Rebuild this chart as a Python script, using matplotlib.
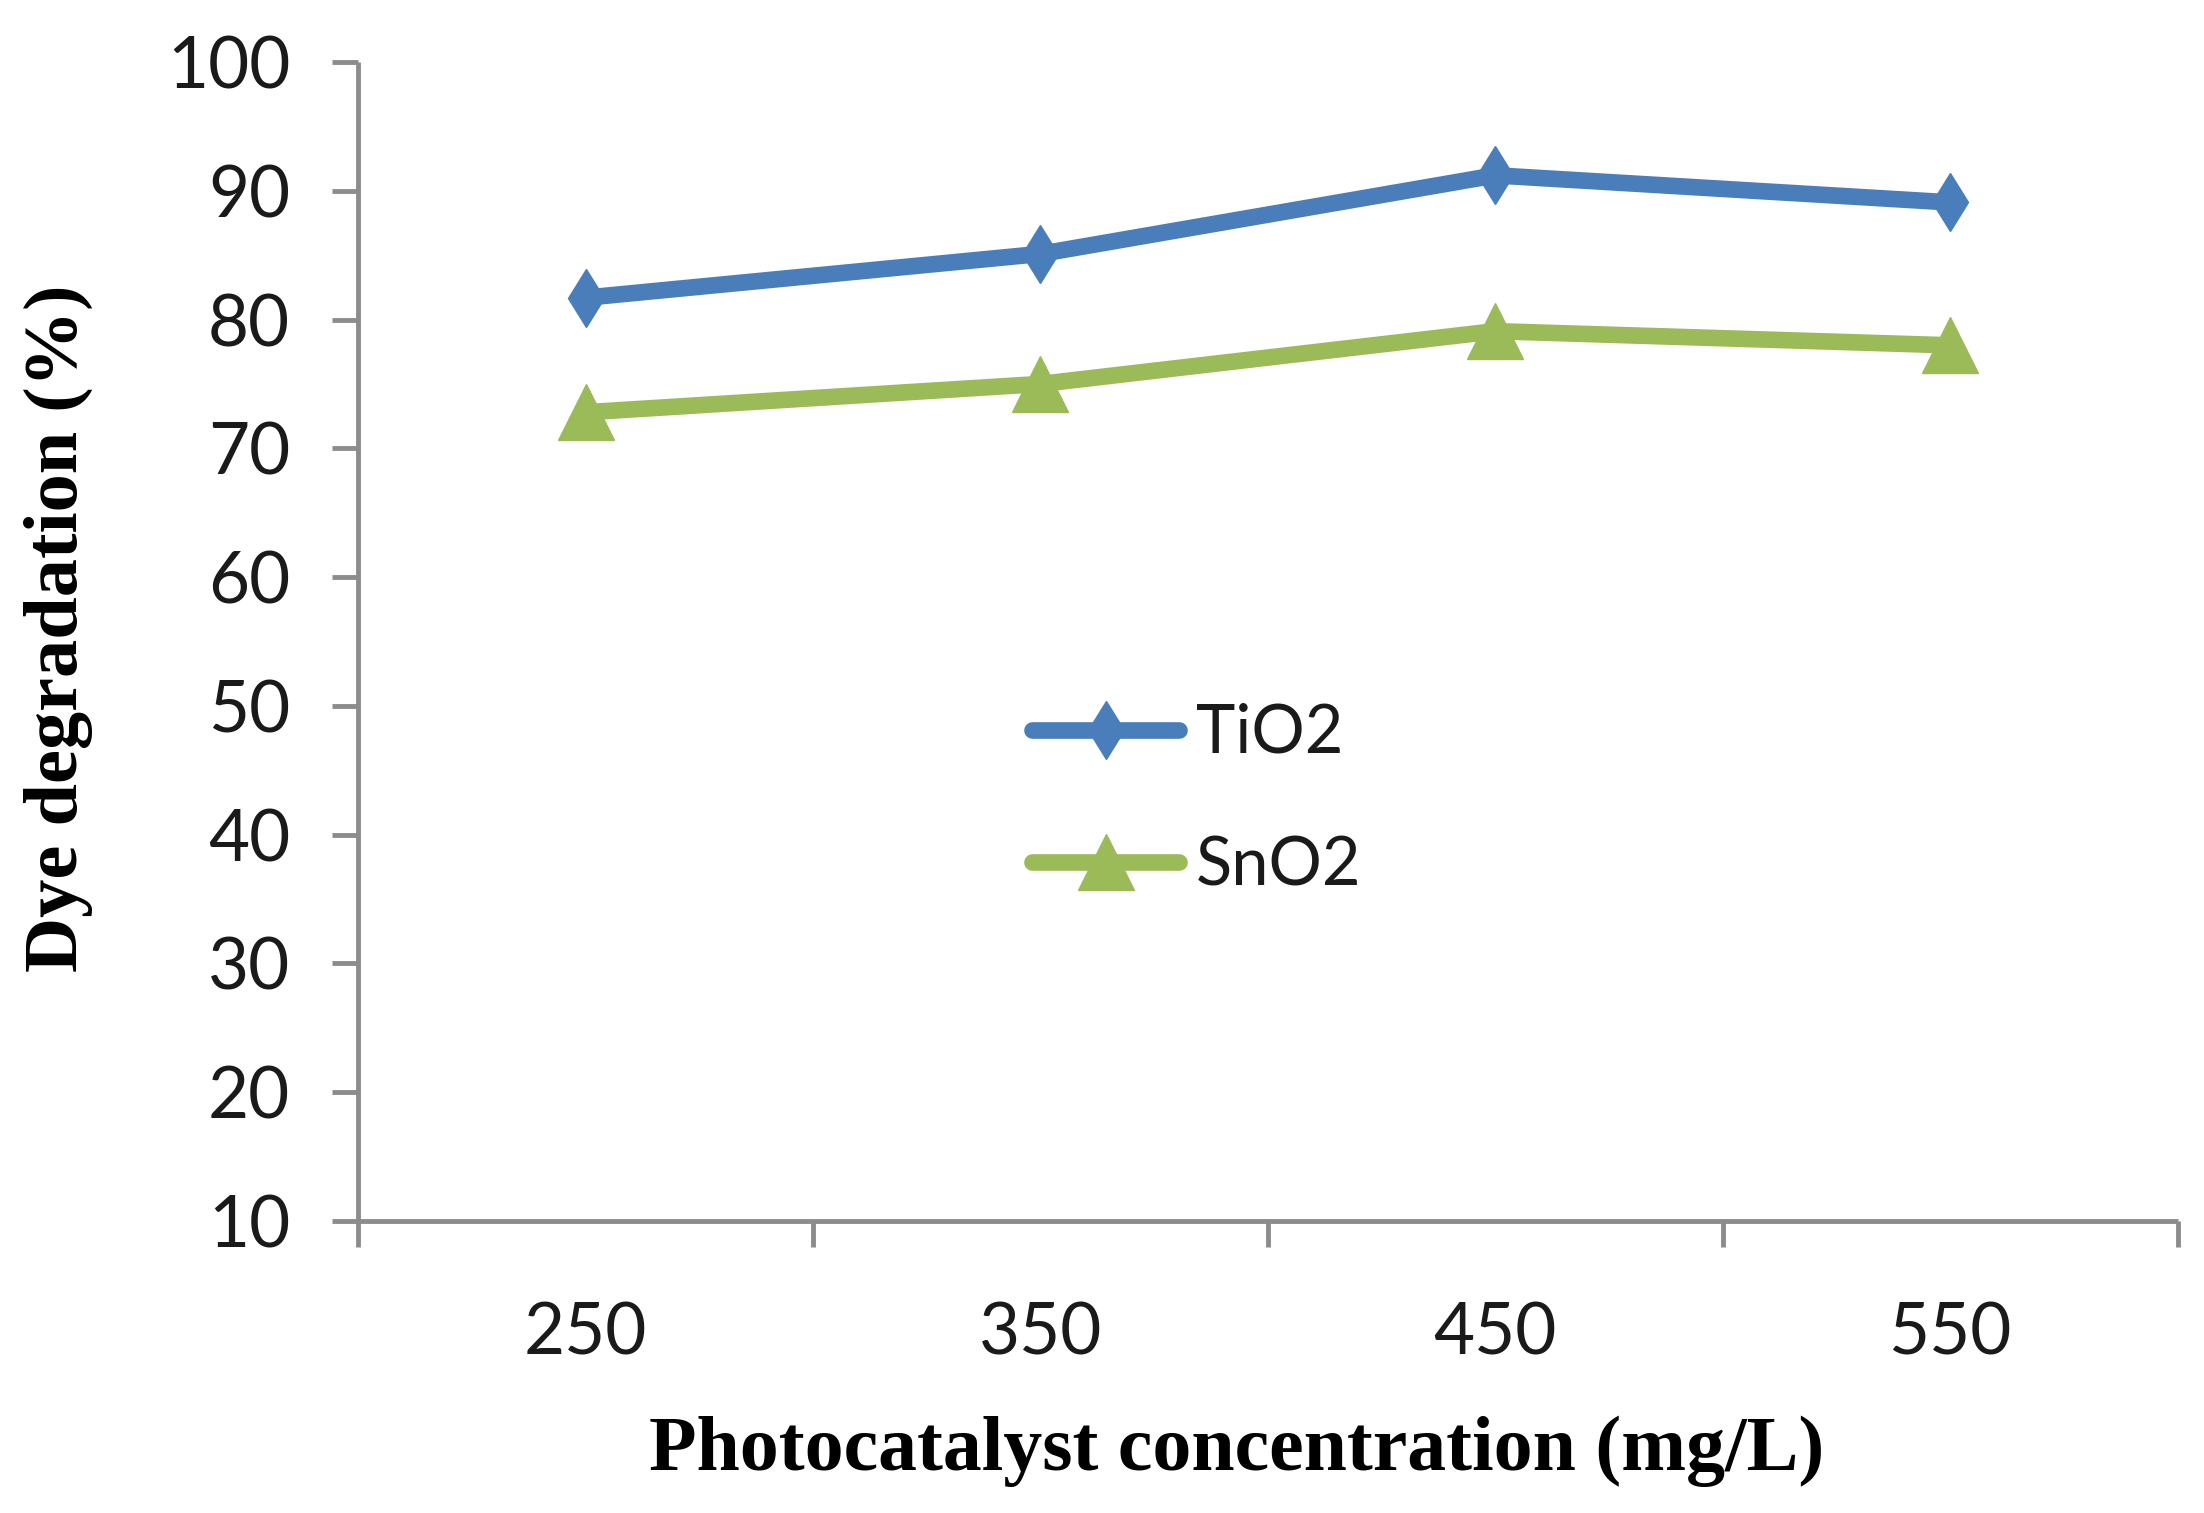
import matplotlib
matplotlib.use("Agg")
import matplotlib.pyplot as plt
from matplotlib.ticker import FixedLocator, NullFormatter

# values
concentration = ["250", "350", "450", "550"]
tio2 = [81.7, 85.1, 91.2, 89.1]
sno2 = [72.8, 75.0, 79.1, 78.0]
yticks = [10, 20, 30, 40, 50, 60, 70, 80, 90, 100]

blue = "#4a7ebb"
green = "#9bbb59"
axis_gray = "#8c8c8c"

plt.rcParams['font.family'] = ['Lato', 'DejaVu Sans']

fig = plt.figure(figsize=(22.04, 15.13), dpi=100)
ax = fig.add_axes([0.1625, 0.193, 0.8255, 0.766])

x = list(range(1, len(concentration) + 1))
ax.plot(x, tio2, color=blue, lw=12, marker="d", ms=30, mec=blue, mfc=blue,
        label="TiO2", solid_capstyle="round", solid_joinstyle="round")
ax.plot(x, sno2, color=green, lw=12, marker="^", ms=41, mec=green, mfc=green,
        label="SnO2", solid_capstyle="round", solid_joinstyle="round")

ax.set_xlim(0.5, len(concentration) + 0.5)
ax.set_ylim(10, 100)
ax.set_yticks(yticks)
ax.set_xticks(x)
ax.set_xticklabels(concentration)
ax.xaxis.set_minor_locator(FixedLocator([i + 0.5 for i in range(len(concentration) + 1)]))
ax.xaxis.set_minor_formatter(NullFormatter())

for side in ["top", "right"]:
    ax.spines[side].set_visible(False)
for side in ["left", "bottom"]:
    ax.spines[side].set_color(axis_gray)
    ax.spines[side].set_linewidth(3.5)
    ax.spines[side].set_capstyle("butt")

ax.tick_params(axis="y", direction="out", length=19, width=3.5, color=axis_gray,
               labelsize=51, pad=30, labelcolor="#1a1a1a")
ax.tick_params(axis="x", which="major", length=0, labelsize=51, pad=58,
               labelcolor="#1a1a1a")
ax.tick_params(axis="x", which="minor", direction="out", length=19, width=3.5,
               color=axis_gray)

leg = ax.legend(loc="center left", bbox_to_anchor=(0.3375, 0.363), frameon=False,
                fontsize=48, handlelength=2.2, handletextpad=0.25,
                labelspacing=1.06, labelcolor="#1a1a1a")

fig.text(0.5613, 0.041, "Photocatalyst concentration (mg/L)", ha="center", va="center",
         fontsize=56, fontweight="bold", family=["Liberation Serif", "DejaVu Serif"])
fig.text(0.0265, 0.585, "Dye degradation (%)", ha="center", va="center", rotation=90,
         fontsize=55, fontweight="bold", family=["Liberation Serif", "DejaVu Serif"])

fig.savefig("out.png", dpi=100)
